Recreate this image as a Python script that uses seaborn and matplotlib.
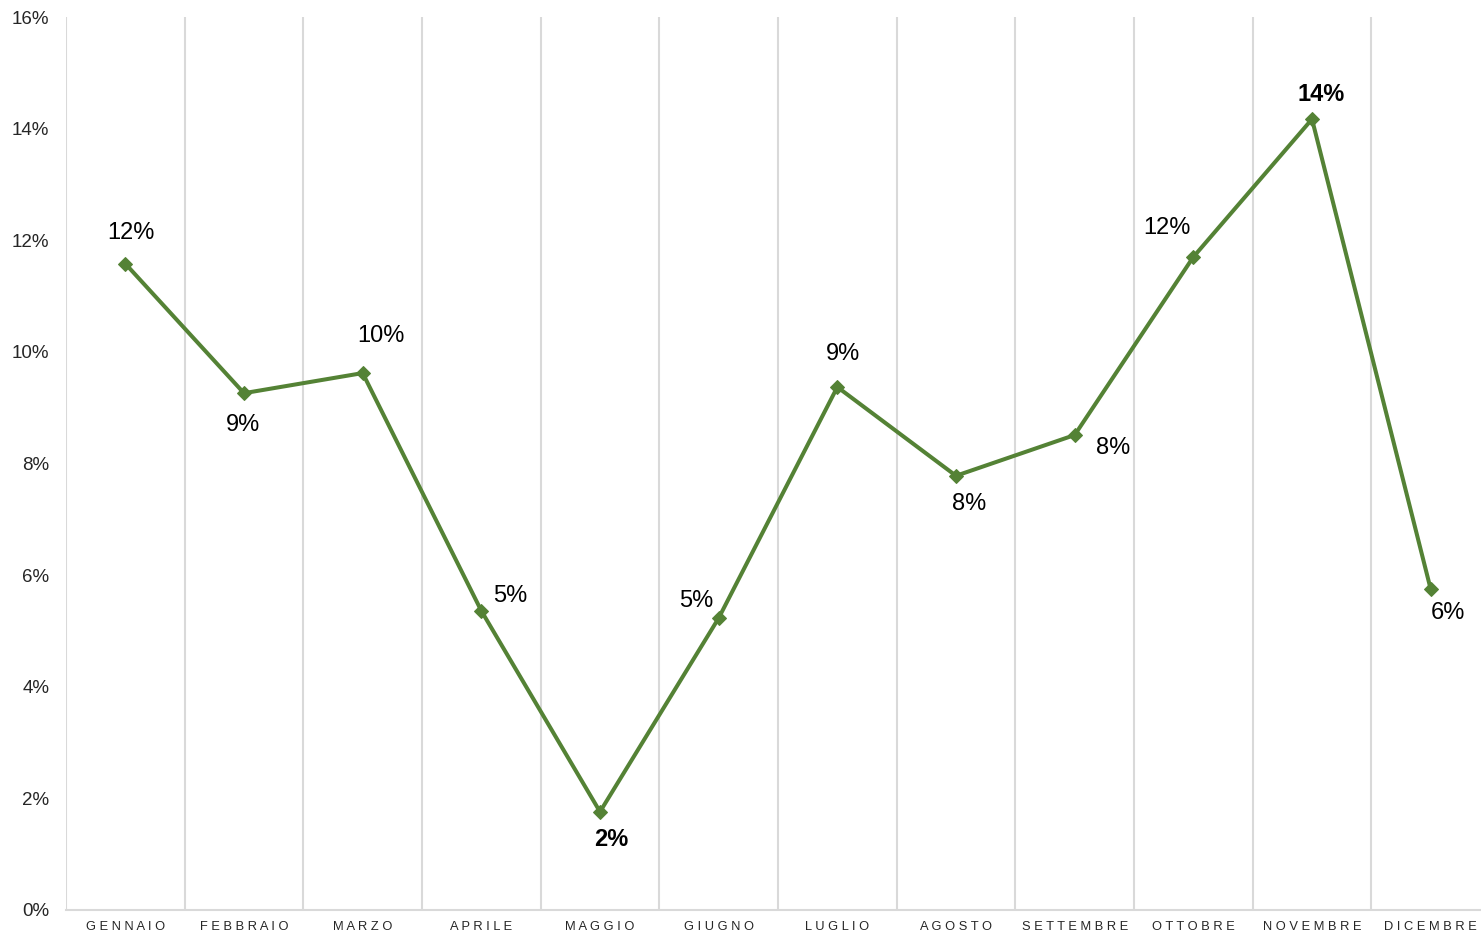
import matplotlib
matplotlib.use("Agg")
import matplotlib.pyplot as plt
import seaborn as sns
import pandas as pd
from matplotlib.ticker import FixedLocator, PercentFormatter

months = ["GENNAIO", "FEBBRAIO", "MARZO", "APRILE", "MAGGIO", "GIUGNO",
          "LUGLIO", "AGOSTO", "SETTEMBRE", "OTTOBRE", "NOVEMBRE", "DICEMBRE"]
values = [11.58, 9.26, 9.62, 5.36, 1.76, 5.23, 9.37, 7.78, 8.51, 11.70, 14.17, 5.75]
labels = ["12%", "9%", "10%", "5%", "2%", "5%", "9%", "8%", "8%", "12%", "14%", "6%"]
bold_idx = [4, 10]

# label offsets in pixels (style)
offsets = [(6, 31), (-1, -32), (18, 37), (29, 15), (11, -28), (-22, 17),
           (6, 33), (13, -28), (38, -13), (-26, 29), (9, 25), (17, -24)]

sns.set_theme(style="white")
plt.rcParams['font.family'] = ['Liberation Sans', 'DejaVu Sans']

df = pd.DataFrame({"month": months, "value": values})

fig = plt.figure(figsize=(14.81, 9.33), dpi=100)
ax = fig.add_axes([66/1481, 23/933, (1490-66)/1481, (910-17)/933])

green = "#548235"
sns.lineplot(data=df, x="month", y="value", sort=False, ax=ax, color=green,
             linewidth=2.9, marker="D", markersize=7.5, markeredgecolor=green,
             markerfacecolor=green)

ax.set_xlim(-0.5, 11.5)
ax.set_ylim(0, 16)
ax.yaxis.set_major_locator(FixedLocator(range(0, 17, 2)))
ax.yaxis.set_major_formatter(PercentFormatter(decimals=0))
ax.set_xticks(range(12))
ax.set_xticklabels([" ".join(m) for m in months], fontsize=9.3, color="#262626")
ax.xaxis.set_minor_locator(FixedLocator([i - 0.5 for i in range(13)]))
ax.grid(which="minor", axis="x", color="#d9d9d9", linewidth=1.5)
ax.grid(which="major", axis="both", visible=False)
ax.tick_params(axis="x", which="both", length=0, pad=8)
ax.tick_params(axis="y", length=0, pad=12, labelsize=13.5, labelcolor="#262626")
ax.set_xlabel("")
ax.set_ylabel("")
for s in ["top", "right", "left"]:
    ax.spines[s].set_visible(False)
ax.spines["bottom"].set_color("#d9d9d9")
ax.spines["bottom"].set_linewidth(1.5)

for i, (v, lab, (dx, dy)) in enumerate(zip(values, labels, offsets)):
    ax.annotate(lab, (i, v), xytext=(dx, dy), textcoords="offset pixels",
                ha="center", va="center", fontsize=17, color="black",
                fontweight="bold" if i in bold_idx else "normal")

fig.savefig("out.png", dpi=100)
